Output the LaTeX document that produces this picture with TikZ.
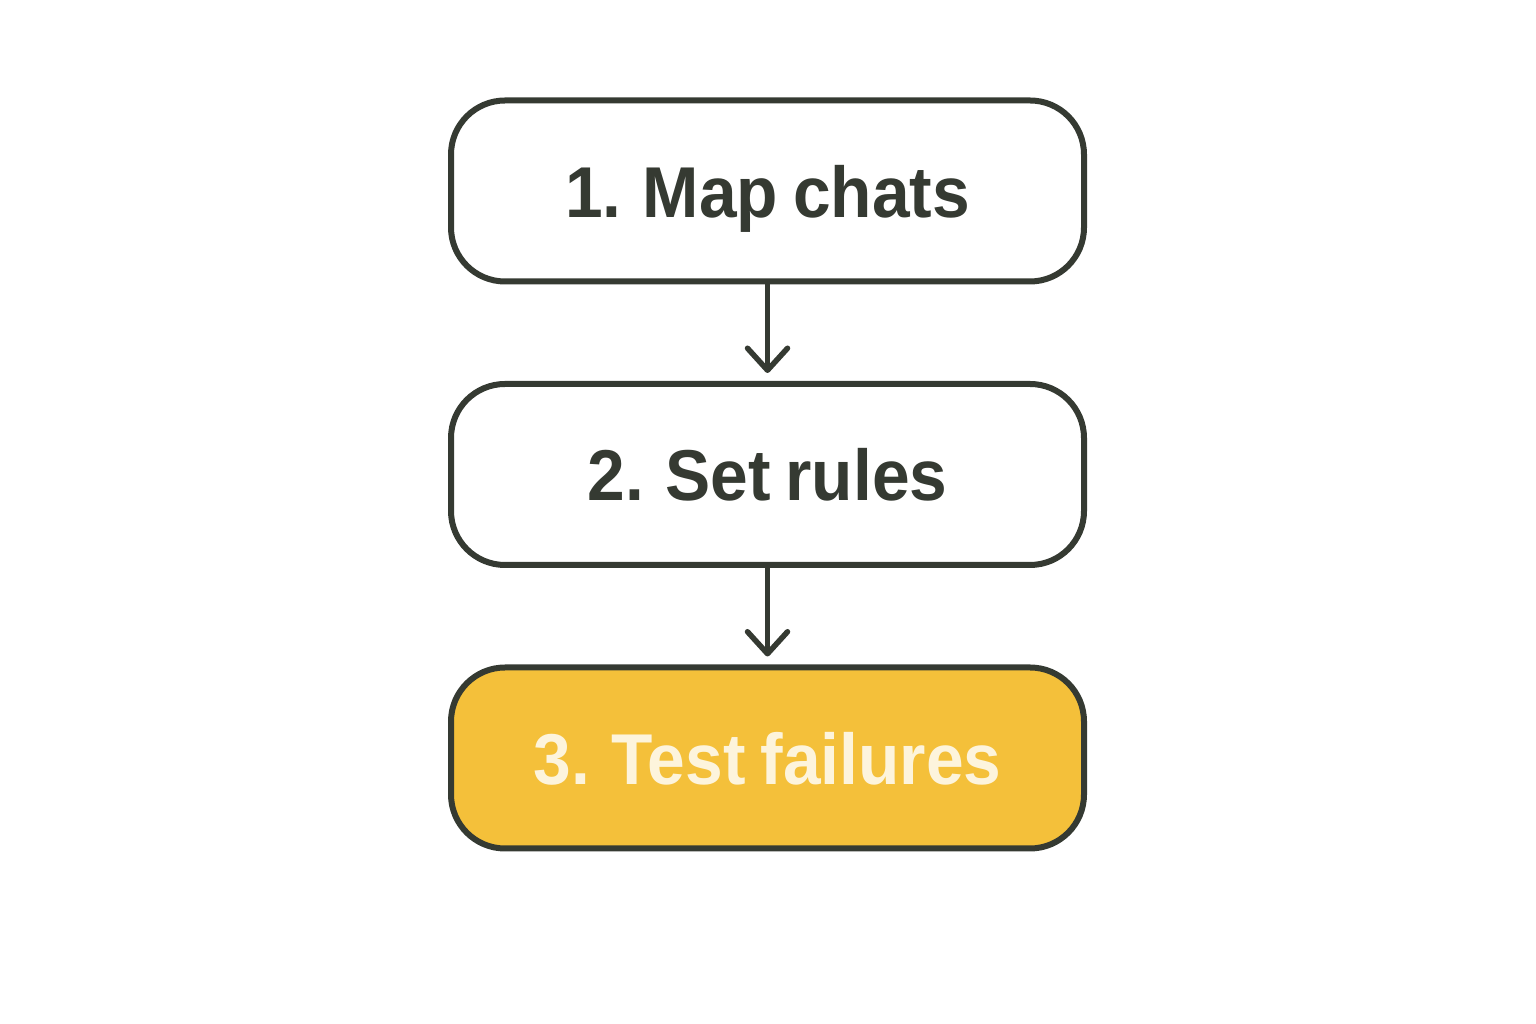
\documentclass[tikz,border=0pt]{standalone}
\usepackage{fontspec}
\setmainfont{Liberation Sans}[FakeStretch=0.94, WordSpace=0.8]
\usetikzlibrary{positioning,arrows.meta}
\definecolor{ink}{HTML}{353A32}
\definecolor{gold}{HTML}{F4C03A}
\definecolor{cream}{HTML}{FDF4DC}
\begin{document}
\begin{tikzpicture}[x=1pt, y=1pt,
  paso/.style={draw=ink, line width=6pt, rounded corners=54pt, fill=white,
    minimum width=633pt, minimum height=181pt, text=ink, text depth=0pt,
    font=\fontsize{72}{84}\selectfont\bfseries},
  flecha/.style={draw=ink, line width=5.5pt,
    -{Straight Barb[length=22pt, width=40pt, line cap=round, line join=round]},
    shorten >=8pt}
]
\useasboundingbox (0,0) rectangle (1536,1024);
\node[paso] (mapa) at (767.5,833) {1. Map chats};
\node[paso, below=96.5pt of mapa] (reglas) {2. Set rules};
\node[paso, below=96.5pt of reglas, fill=gold, text=cream] (prueba) {3. Test failures};
\draw[flecha] (mapa) -- (reglas);
\draw[flecha] (reglas) -- (prueba);
\end{tikzpicture}
\end{document}
